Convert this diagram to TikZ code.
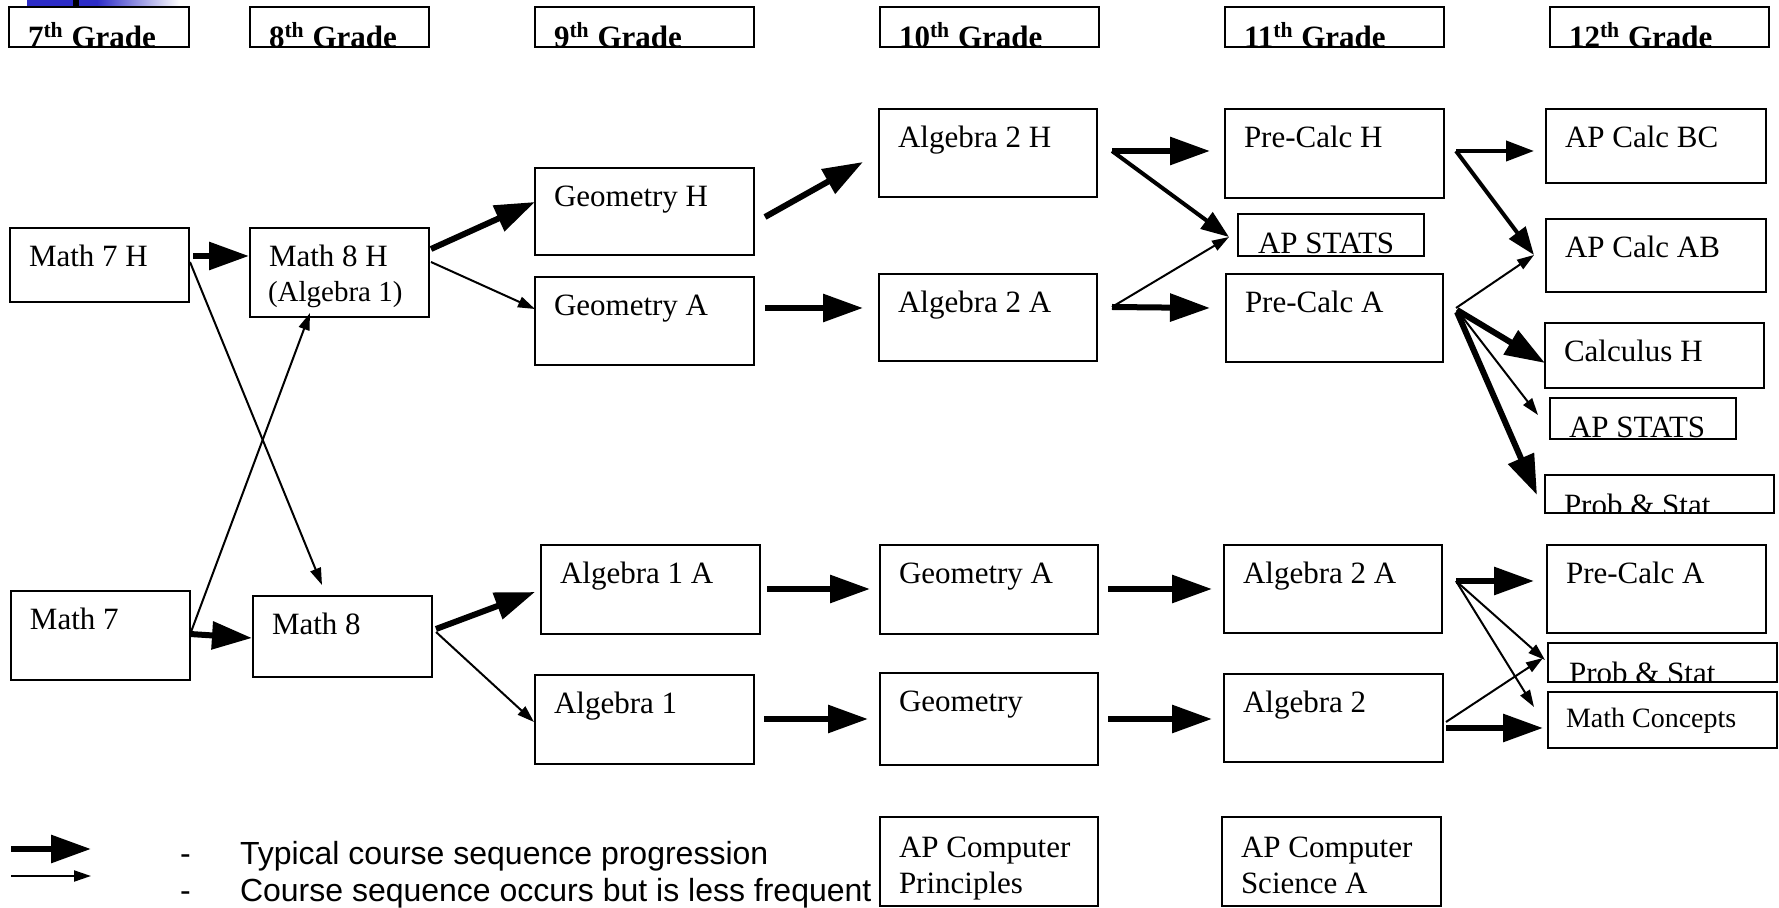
\documentclass[tikz,border=0pt]{standalone}
\usepackage{fontspec}
\setmainfont{Liberation Serif}
\setsansfont{Liberation Sans}
\usetikzlibrary{arrows.meta}
\definecolor{barblue}{RGB}{45,45,200}
\tikzset{
 cbox/.style={draw, line width=1.3pt, rectangle, inner sep=0pt, outer sep=0pt, anchor=north west},
 ctext/.style={inner sep=0pt, outer sep=0pt, anchor=base west, font=\fontsize{15.5}{18}\selectfont},
 smtext/.style={inner sep=0pt, outer sep=0pt, anchor=base west, font=\fontsize{14}{17}\selectfont},
 hdtext/.style={inner sep=0pt, outer sep=0pt, anchor=base west, font=\bfseries\fontsize{15.5}{18}\selectfont},
 lgtext/.style={inner sep=0pt, outer sep=0pt, anchor=base west, font=\sffamily\fontsize{16}{19}\selectfont},
 thickarr/.style={line width=3pt, -{Triangle[length=20pt,width=13.5pt]}},
 medarr/.style={line width=2pt, -{Triangle[length=14pt,width=10pt]}},
 thinarr/.style={line width=1pt, -{Triangle[length=8.5pt,width=5.5pt]}},
}
\newcommand\cbx[5]{\node[cbox, minimum width={(#4-#2)*0.5pt}, minimum height={(#5-#3)*0.5pt}] (#1) at (#2,#3) {};}
\newcommand\ctx[2]{\node[ctext] (#1t) at ([shift={(19,38.5)}]#1.north west) {#2};}
\newcommand\cuttext[5]{\begin{scope}\clip (#1.north west) rectangle (#1.south east);
\node[#4] (#1t) at ([shift={(#2,#3)}]#1.north west) {#5};\end{scope}}
\begin{document}
\begin{tikzpicture}[x=0.5pt,y=-0.5pt]
\useasboundingbox (0,0) rectangle (1779,908);
% top bar fragment
\fill[barblue] (27,0) rectangle (97,7);
\shade[left color=barblue, right color=white] (97,0) rectangle (180,7);
\fill[black] (73,0) rectangle (79,7);
% headers
\cbx{h7}{9}{7}{189}{47}
\cbx{h8}{250}{7}{429}{47}
\cbx{h9}{535}{7}{754}{47}
\cbx{h10}{880}{7}{1099}{47}
\cbx{h11}{1225}{7}{1444}{47}
\cbx{h12}{1550}{7}{1769}{47}
\cuttext{h7}{19}{41}{hdtext}{7\textsuperscript{th} Grade}
\cuttext{h8}{19}{41}{hdtext}{8\textsuperscript{th} Grade}
\cuttext{h9}{19}{41}{hdtext}{9\textsuperscript{th} Grade}
\cuttext{h10}{19}{41}{hdtext}{10\textsuperscript{th} Grade}
\cuttext{h11}{19}{41}{hdtext}{11\textsuperscript{th} Grade}
\cuttext{h12}{19}{41}{hdtext}{12\textsuperscript{th} Grade}
% course boxes
\cbx{m7h}{10}{228}{189}{302} \ctx{m7h}{Math 7 H}
\cbx{m8h}{250}{228}{429}{317} \ctx{m8h}{Math 8 H}
\node[ctext, font=\fontsize{14.5}{17}\selectfont] (m8hs) at ([shift={(18,73.5)}]m8h.north west) {(Algebra 1)};
\cbx{geoH}{535}{168}{754}{255} \ctx{geoH}{Geometry H}
\cbx{geoA}{535}{277}{754}{365} \ctx{geoA}{Geometry A}
\cbx{alg2H}{879}{109}{1097}{197} \ctx{alg2H}{Algebra 2 H}
\cbx{alg2A}{879}{274}{1097}{361} \ctx{alg2A}{Algebra 2 A}
\cbx{pcH}{1225}{109}{1444}{198} \ctx{pcH}{Pre-Calc H}
\cbx{stat11}{1238}{214}{1424}{256} \cuttext{stat11}{20}{40}{ctext}{AP STATS}
\cbx{pcA}{1226}{274}{1443}{362} \ctx{pcA}{Pre-Calc A}
\cbx{calcBC}{1546}{109}{1766}{183} \ctx{calcBC}{AP Calc BC}
\cbx{calcAB}{1546}{219}{1766}{292} \ctx{calcAB}{AP Calc AB}
\cbx{calcH}{1545}{323}{1764}{388} \ctx{calcH}{Calculus H}
\cbx{stat12}{1550}{398}{1736}{439} \cuttext{stat12}{19}{39.5}{ctext}{AP STATS}
\cbx{psA}{1545}{475}{1774}{513} \cuttext{psA}{19}{41}{ctext}{Prob \& Stat}
\cbx{pcA12}{1547}{545}{1766}{633} \ctx{pcA12}{Pre-Calc A}
\cbx{psB}{1548}{643}{1777}{682} \cuttext{psB}{21}{40.5}{ctext}{Prob \& Stat}
\cbx{mc}{1548}{692}{1777}{748} \node[smtext] (mct) at ([shift={(18,36)}]mc.north west) {Math Concepts};
\cbx{alg2Ab}{1224}{545}{1442}{633} \ctx{alg2Ab}{Algebra 2 A}
\cbx{alg2}{1224}{674}{1443}{762} \ctx{alg2}{Algebra 2}
\cbx{m7}{11}{591}{190}{680} \ctx{m7}{Math 7}
\cbx{m8}{253}{596}{432}{677} \ctx{m8}{Math 8}
\cbx{alg1A}{541}{545}{760}{634} \ctx{alg1A}{Algebra 1 A}
\cbx{geoAb}{880}{545}{1098}{634} \ctx{geoAb}{Geometry A}
\cbx{alg1}{535}{675}{754}{764} \ctx{alg1}{Algebra 1}
\cbx{geo}{880}{673}{1098}{765} \ctx{geo}{Geometry}
\cbx{apcsp}{880}{817}{1098}{906}
\node[ctext] (apcsp1) at ([shift={(19,40)}]apcsp.north west) {AP Computer};
\node[ctext] (apcsp2) at ([shift={(19,76)}]apcsp.north west) {Principles};
\cbx{apcsa}{1222}{817}{1441}{906}
\node[ctext] (apcsa1) at ([shift={(19,40)}]apcsa.north west) {AP Computer};
\node[ctext] (apcsa2) at ([shift={(19,76)}]apcsa.north west) {Science A};
% connectors
\draw[thickarr] ([shift={(4,28)}]m7h.north east) -- ([shift={(-1,28)}]m8h.north west);
\draw[thickarr] ([shift={(2,21)}]m8h.north east) -- ([shift={(0,34)}]geoH.north west);
\draw[thinarr] ([shift={(2,34)}]m8h.north east) -- ([shift={(0,32)}]geoA.north west);
\draw[thinarr] ([shift={(1,34)}]m7h.north east) -- ([shift={(69,-11)}]m8.north west);
\draw[thinarr] ([shift={(1,41)}]m7.north east) -- ([shift={(60,-4)}]m8h.south west);
\draw[thickarr] ([shift={(0,43)}]m7.north east) -- ([shift={(-1,42)}]m8.north west);
\draw[thickarr] ([shift={(4,33)}]m8.north east) -- ([shift={(-6,47)}]alg1A.north west);
\draw[thinarr] ([shift={(4,36)}]m8.north east) -- ([shift={(-1,47)}]alg1.north west);
\draw[thickarr] ([shift={(11,49)}]geoH.north east) -- ([shift={(-16,53)}]alg2H.north west);
\draw[thickarr] ([shift={(11,31)}]geoA.north east) -- ([shift={(-16,34)}]alg2A.north west);
\draw[thickarr] ([shift={(15,42)}]alg2H.north east) -- ([shift={(-15,42)}]pcH.north west);
\draw[medarr] ([shift={(15,42)}]alg2H.north east) -- ([shift={(-9,23)}]stat11.north west);
\draw[thinarr] ([shift={(15,33)}]alg2A.north east) -- ([shift={(-9,23)}]stat11.north west);
\draw[thickarr] ([shift={(15,33)}]alg2A.north east) -- ([shift={(-16,34)}]pcA.north west);
\draw[medarr] ([shift={(12,42)}]pcH.north east) -- ([shift={(-12,42)}]calcBC.north west);
\draw[medarr] ([shift={(12,42)}]pcH.north east) -- ([shift={(-12,36)}]calcAB.north west);
\draw[thinarr] ([shift={(13,34)}]pcA.north east) -- ([shift={(-12,36)}]calcAB.north west);
\draw[thickarr] ([shift={(14,36)}]pcA.north east) -- ([shift={(0,40)}]calcH.north west);
\draw[thinarr] ([shift={(14,36)}]pcA.north east) -- ([shift={(-12,17)}]stat12.north west);
\draw[thickarr] ([shift={(14,38)}]pcA.north east) -- ([shift={(-8,20)}]psA.north west);
\draw[thickarr] ([shift={(14,36)}]alg2Ab.north east) -- ([shift={(-13,36)}]pcA12.north west);
\draw[thinarr] ([shift={(14,36)}]alg2Ab.north east) -- ([shift={(-3,17)}]psB.north west);
\draw[thinarr] ([shift={(14,36)}]alg2Ab.north east) -- ([shift={(-14,15)}]mc.north west);
\draw[thinarr] ([shift={(3,48)}]alg2.north east) -- ([shift={(-5,15)}]psB.north west);
\draw[thickarr] ([shift={(3,54)}]alg2.north east) -- ([shift={(-5,36)}]mc.north west);
\draw[thickarr] ([shift={(7,44)}]alg1A.north east) -- ([shift={(-10,44)}]geoAb.north west);
\draw[thickarr] ([shift={(10,44)}]geoAb.north east) -- ([shift={(-12,44)}]alg2Ab.north west);
\draw[thickarr] ([shift={(10,44)}]alg1.north east) -- ([shift={(-12,46)}]geo.north west);
\draw[thickarr] ([shift={(10,46)}]geo.north east) -- ([shift={(-12,45)}]alg2.north west);
% legend
\coordinate (lgA1) at (11,849); \coordinate (lgA2) at (91,849);
\coordinate (lgB1) at (11,876); \coordinate (lgB2) at (91,876);
\draw[thickarr] (lgA1) -- (lgA2);
\draw[thinarr] (lgB1) -- (lgB2);
\node[lgtext] (lgd1) at (180,864) {-};
\node[lgtext] (lgt1) at (240,864) {Typical course sequence progression};
\node[lgtext] (lgd2) at (180,901) {-};
\node[lgtext] (lgt2) at (240,901) {Course sequence occurs but is less frequent};
\end{tikzpicture}
\end{document}
